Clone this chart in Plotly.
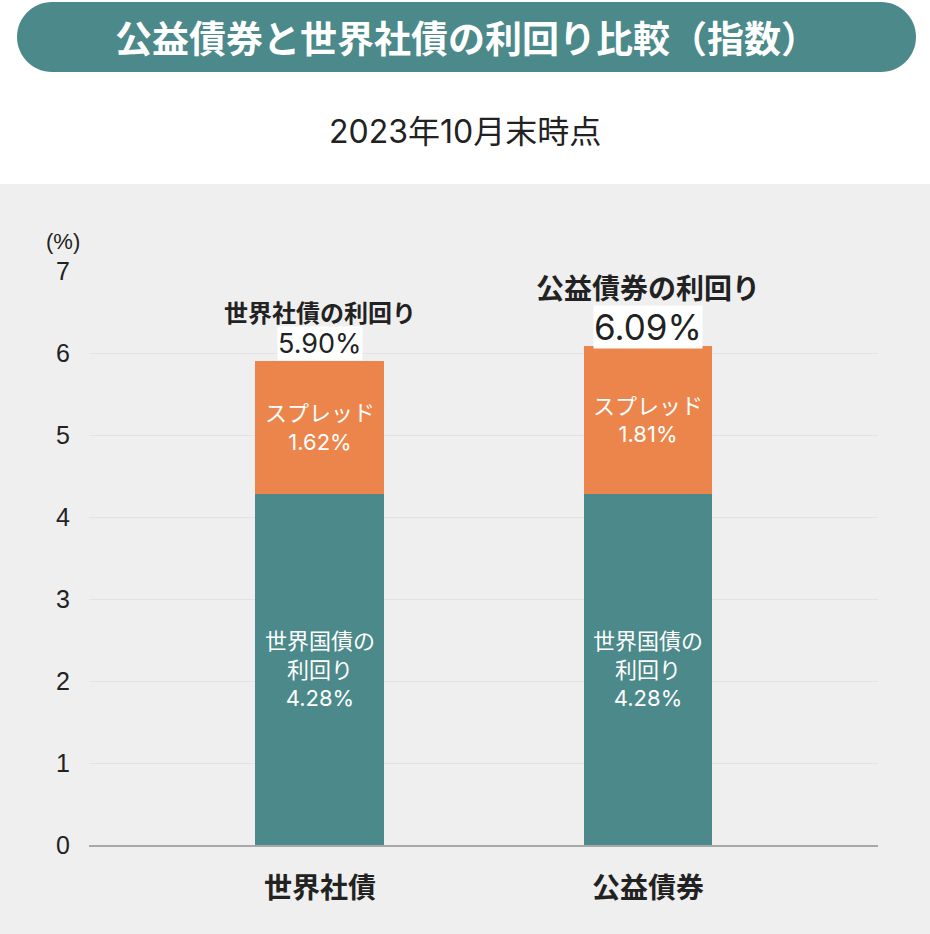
import plotly.graph_objects as go

# ---- data ----
categories = ["世界社債", "公益債券"]
gov_yield = [4.28, 4.28]
spread = [1.62, 1.81]
total_yield = [5.90, 6.09]
gov_labels = ["世界国債の<br>利回り<br>4.28%", "世界国債の<br>利回り<br>4.28%"]
spread_labels = ["スプレッド<br>1.62%", "スプレッド<br>1.81%"]
top_titles = ["世界社債の利回り", "公益債券の利回り"]
top_values = ["5.90%", "6.09%"]
y_ticks = [0, 1, 2, 3, 4, 5, 6, 7]

title_text = "公益債券と世界社債の利回り比較（指数）"
subtitle_text = "2023年10月末時点"

# ---- style ----
W, H = 930, 934
ML, MR, MT, MB = 89, 52, 271, 89
PW, PH = W - ML - MR, H - MT - MB
TEAL = "#4b898a"
ORANGE = "#ec854b"
GREY_BG = "#efefef"
TXT = "#222222"
FONT = "Liberation Sans, Noto Sans CJK JP, sans-serif"
NUMF = "Inter, Noto Sans CJK JP, sans-serif"
CJK = "Noto Sans CJK JP, Liberation Sans, sans-serif"


def px(x):
    return (x - ML) / PW


def py(y):
    return (H - MB - y) / PH


fig = go.Figure()
fig.add_trace(go.Bar(
    x=categories, y=gov_yield, width=0.393, marker=dict(color=TEAL, line=dict(width=0)),
    text=gov_labels, textposition="inside", insidetextanchor="middle", textangle=0,
    textfont=dict(color="white", size=22, family=NUMF), hoverinfo="skip",
))
fig.add_trace(go.Bar(
    x=categories, y=spread, width=0.393, marker=dict(color=ORANGE, line=dict(width=0)),
    text=spread_labels, textposition="inside", insidetextanchor="middle", textangle=0,
    textfont=dict(color="white", size=22, family=NUMF), hoverinfo="skip",
))

annotations = []
val_sizes = [27, 35]
title_sizes = [24, 28]
val_shift = [18, 19]
title_shift = [50, 59]
for c, t, tt, tv, vs, ts, vsh, tsh in zip(categories, total_yield, top_titles, top_values,
                                           val_sizes, title_sizes, val_shift, title_shift):
    annotations.append(dict(x=c, y=t, xref="x", yref="y", text=tv, showarrow=False,
                            yanchor="middle", yshift=vsh, bgcolor="white", borderpad=0,
                            font=dict(size=vs, color=TXT, family=NUMF)))
    annotations.append(dict(x=c, y=t, xref="x", yref="y", text="<b>" + tt + "</b>", showarrow=False,
                            yanchor="middle", yshift=tsh,
                            font=dict(size=ts, color=TXT, family=CJK)))

annotations.append(dict(x=px(63), y=py(241), xref="paper", yref="paper", text="(%)",
                        showarrow=False, xanchor="center", yanchor="middle",
                        font=dict(size=22, color=TXT, family=FONT)))
annotations.append(dict(x=px(466), y=py(37), xref="paper", yref="paper", text="<b>" + title_text + "</b>",
                        showarrow=False, xanchor="center", yanchor="middle",
                        font=dict(size=37, color="white", family=CJK)))
annotations.append(dict(x=px(465), y=py(131), xref="paper", yref="paper", text=subtitle_text,
                        showarrow=False, xanchor="center", yanchor="middle",
                        font=dict(size=32, color=TXT, family=NUMF)))

# pill shape
x0, x1, top, bot = 17, 916, 2, 72
r = (bot - top) / 2
cy = (top + bot) / 2
k = 0.5523 * r


def P(x, y):
    return f"{px(x):.5f},{py(y):.5f}"


path = (f"M {P(x0 + r, top)} L {P(x1 - r, top)} "
        f"C {P(x1 - r + k, top)} {P(x1, cy - k)} {P(x1, cy)} "
        f"C {P(x1, cy + k)} {P(x1 - r + k, bot)} {P(x1 - r, bot)} "
        f"L {P(x0 + r, bot)} "
        f"C {P(x0 + r - k, bot)} {P(x0, cy + k)} {P(x0, cy)} "
        f"C {P(x0, cy - k)} {P(x0 + r - k, top)} {P(x0 + r, top)} Z")

shapes = [
    dict(type="rect", xref="paper", yref="paper", x0=px(0), x1=px(W), y0=py(H), y1=py(184),
         fillcolor=GREY_BG, line=dict(width=0), layer="below"),
    dict(type="path", xref="paper", yref="paper", path=path, fillcolor=TEAL, line=dict(width=0)),
]

fig.update_layout(
    width=W, height=H, autosize=False,
    margin=dict(l=ML, r=MR, t=MT, b=MB, pad=0),
    paper_bgcolor="white", plot_bgcolor="white",
    barmode="stack", showlegend=False,
    annotations=annotations, shapes=shapes,
    font=dict(family=FONT, color=TXT),
    xaxis=dict(type="category", range=[-0.704, 1.701], showgrid=False, zeroline=False,
               showline=True, linecolor="#a8a8a8", linewidth=1.5, ticks="",
               tickmode="array", tickvals=categories,
               ticktext=["<b>" + c + "</b>" for c in categories],
               tickfont=dict(size=28, color=TXT, family=CJK), ticklabelstandoff=18),
    yaxis=dict(range=[0, 7], tickmode="array", tickvals=y_ticks, showgrid=True,
               gridcolor="#e3e3e3", gridwidth=1, zeroline=False, showline=False, ticks="",
               tickfont=dict(size=25, color=TXT, family=FONT), ticklabelstandoff=18),
)

fig.write_html("out.html", config={"displayModeBar": False},
               post_script="document.body.style.margin='0px';")
